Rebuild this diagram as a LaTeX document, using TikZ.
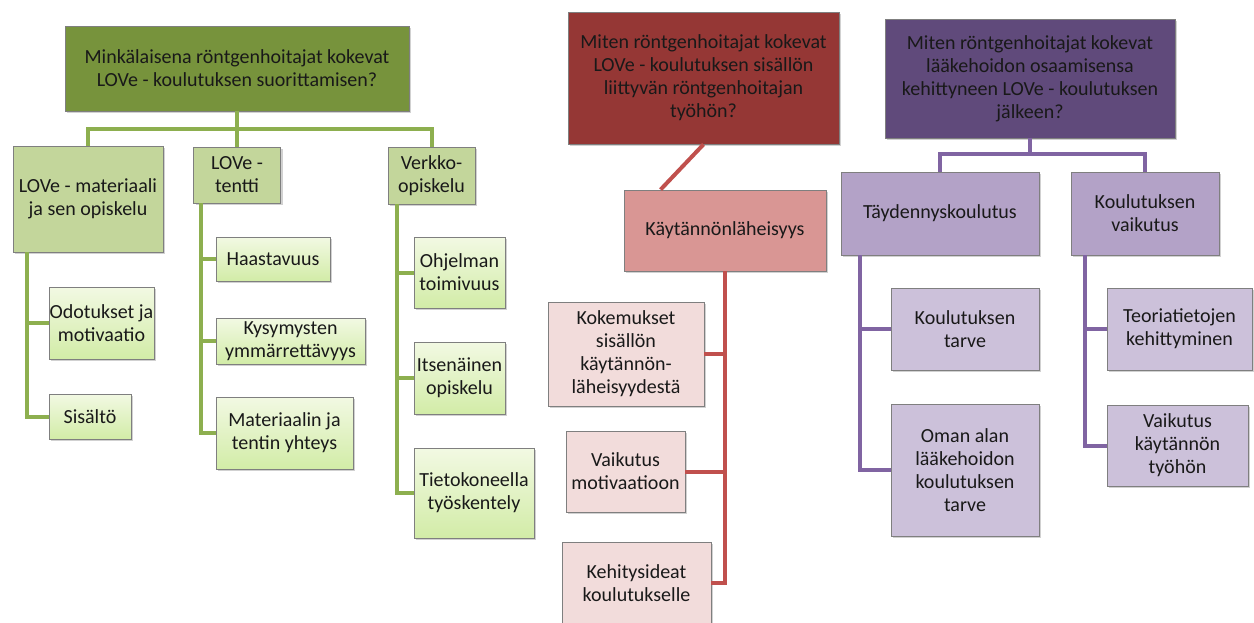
\documentclass[tikz,border=0pt]{standalone}
\usepackage{fontspec}
\setmainfont{Carlito}
\usepackage{xcolor}
\usepackage{tikz}
\usetikzlibrary{positioning,shadows,calc}

\definecolor{gdark}{HTML}{77933C}
\definecolor{gmid}{HTML}{C3D69B}
\definecolor{gtop}{HTML}{F2F9E3}
\definecolor{gbot}{HTML}{D2ECA7}
\definecolor{gline}{HTML}{8DAF4F}
\definecolor{rdark}{HTML}{953735}
\definecolor{rmid}{HTML}{D99694}
\definecolor{rlight}{HTML}{F2DCDB}
\definecolor{rline}{HTML}{C0504D}
\definecolor{pdark}{HTML}{604A7B}
\definecolor{pmid}{HTML}{B3A2C7}
\definecolor{plight}{HTML}{CCC1DA}
\definecolor{pline}{HTML}{8064A2}
\definecolor{boxline}{HTML}{7F7F7F}

\begin{document}
\begin{tikzpicture}[x=1pt,y=-1pt,
  every node/.style={font=\fontsize{20}{23}\selectfont},
  sz/.style 2 args={minimum width=#1pt,minimum height=#2pt}
]

\tikzstyle{box}=[draw=boxline,line width=0.8pt,rectangle,align=center,inner sep=0pt,
  text=black!90,
  drop shadow={shadow xshift=2pt,shadow yshift=-2pt,opacity=0.3,fill=black!60}]
\tikzset{groot/.style={box,fill=gdark},
         gnode/.style={box,fill=gmid},
         gleaf/.style={box,top color=gtop,bottom color=gbot},
         rroot/.style={box,fill=rdark},
         rnode/.style={box,fill=rmid},
         rleaf/.style={box,fill=rlight},
         proot/.style={box,fill=pdark},
         pnode/.style={box,fill=pmid},
         pleaf/.style={box,fill=plight},
         glink/.style={draw=gline,line width=4pt},
         rlink/.style={draw=rline,line width=4pt},
         plink/.style={draw=pline,line width=4pt}}

\useasboundingbox (0,0) rectangle (1254,623);

% green tree
\node[groot,sz={344}{85}]  (gq)  at (237,68.5) {Minkälaisena röntgenhoitajat kokevat\\LOVe - koulutuksen suorittamisen?};
\node[gnode,sz={150}{106}] (g1)  at (88,199)   {LOVe - materiaali\\ja sen opiskelu};
\node[gnode,sz={87}{56}]   (g2)  at (237,175)  {LOVe -\\tentti};
\node[gnode,sz={87}{57}]   (g3)  at (431.5,175.5) {Verkko-\\opiskelu};
\node[gleaf,sz={105}{72}]  (g11) at (101.5,323) {Odotukset ja\\motivaatio};
\node[gleaf,sz={82}{45}]   (g12) at (90,416.5)  {Sisältö};
\node[gleaf,sz={114}{44}]  (g21) at (273,259)   {Haastavuus};
\node[gleaf,sz={149}{46}]  (g22) at (290.5,341) {Kysymysten\\ymmärrettävyys};
\node[gleaf,sz={137}{72}]  (g23) at (284.5,433) {Materiaalin ja\\tentin yhteys};
\node[gleaf,sz={91}{71}]   (g31) at (459.5,272.5) {Ohjelman\\toimivuus};
\node[gleaf,sz={91}{72}]   (g32) at (459.5,378) {Itsenäinen\\opiskelu};
\node[gleaf,sz={120}{90}]  (g33) at (474,493)   {Tietokoneella\\työskentely};

% red tree
\node[rroot,sz={271}{132}] (rq)  at (703.5,78)  {Miten röntgenhoitajat kokevat\\LOVe - koulutuksen sisällön\\liittyvän röntgenhoitajan\\työhön?};
\node[rnode,sz={202}{81}]  (r1)  at (725,230.5) {Käytännönläheisyys};
\node[rleaf,sz={156}{104}] (r11) at (626,354)   {Kokemukset\\sisällön\\käytännön-\\läheisyydestä};
\node[rleaf,sz={119}{81}]  (r12) at (625.5,471.5) {Vaikutus\\motivaatioon};
\node[rleaf,sz={149}{82}]  (r13) at (636.5,583) {Kehitysideat\\koulutukselle};

% purple tree
\node[proot,sz={290}{119}] (pq)  at (1030,78.5) {Miten röntgenhoitajat kokevat\\lääkehoidon osaamisensa\\kehittyneen LOVe - koulutuksen\\jälkeen?};
\node[pnode,sz={198}{83}]  (p1)  at (940,213.5)  {Täydennyskoulutus};
\node[pnode,sz={148}{83}]  (p2)  at (1145,213.5) {Koulutuksen\\vaikutus};
\node[pleaf,sz={148}{82}]  (p11) at (965,329)    {Koulutuksen\\tarve};
\node[pleaf,sz={148}{132}] (p12) at (965,470)    {Oman alan\\lääkehoidon\\koulutuksen\\tarve};
\node[pleaf,sz={145}{82}]  (p21) at (1179.5,329) {Teoriatietojen\\kehittyminen};
\node[pleaf,sz={141}{81}]  (p22) at (1177.5,445.5) {Vaikutus\\käytännön\\työhön};

% links
\foreach \n in {g1,g2,g3}
  \draw[glink] (gq.south) -- ++(0,18) -| (\n.north);
\foreach \n in {g11,g12}
  \draw[glink] ([xshift=14pt]g1.south west) |- (\n.west);
\foreach \n in {g21,g22,g23}
  \draw[glink] ([xshift=8pt]g2.south west) |- (\n.west);
\foreach \n in {g31,g32,g33}
  \draw[glink] ([xshift=9pt]g3.south west) |- (\n.west);

\draw[rlink] (rq.south) -- ([xshift=37pt]r1.north west);
\foreach \n in {r11,r12,r13}
  \draw[rlink] (r1.south) |- (\n.east);

\foreach \n in {p1,p2}
  \draw[plink] (pq.south) -- ++(0,16) -| (\n.north);
\foreach \n in {p11,p12}
  \draw[plink] ([xshift=19pt]p1.south west) |- (\n.west);
\foreach \n in {p21,p22}
  \draw[plink] ([xshift=14pt]p2.south west) |- (\n.west);

\end{tikzpicture}
\end{document}
